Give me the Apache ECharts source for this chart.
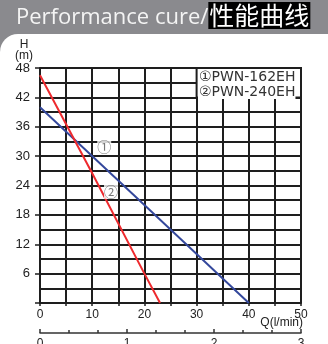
<!DOCTYPE html>
<html><head><meta charset="utf-8">
<script src="https://cdn.jsdelivr.net/npm/echarts@6/dist/echarts.min.js"></script>
<style>html,body{margin:0;padding:0;background:#fff}#c{width:328px;height:344px}</style>
</head><body><div id="c"></div>
<script>
// ---- data ----
const qBlue = [0, 20, 40];           // flow Q (l/min), PWN-162EH
const hBlue = [40, 20, 0];           // head H (m)
const qRed  = [0, 10, 20, 23];       // flow Q (l/min), PWN-240EH
const hRed  = [46.5, 26.5, 6, 0];    // head H (m)
const seriesNames = ['①PWN-162EH', '②PWN-240EH'];
const curveTags = ['①', '②'];
const curveTagQ = [12.3, 13.6];
const curveTagH = [31.9, 22.7];
const qTickLabels = ['0', '10', '20', '30', '40', '50'];
const hTickLabels = ['', '6', '12', '18', '24', '30', '36', '42', '48'];
const m3hTickLabels = ['0', '1', '2', '3'];
const legendBoxQ = [30, 50];
const legendBoxH = [42, 48];

const gridColor = '#1e1e1e';
const chart = echarts.init(document.getElementById('c'), null, {renderer: 'canvas'});
const pairs = (xs, ys) => xs.map((x, i) => [x, ys[i]]);

chart.setOption({
  animation: false,
  title: {
    text: '{a|Performance cure/}{b|性能曲线}',
    left: 11, top: -3, z: 10,
    textStyle: {
      fontWeight: 'normal',
      rich: {
        a: {fontSize: 22, fontFamily: 'Open Sans', fontWeight: 'normal', color: '#f4f4f4', verticalAlign: 'bottom'},
        b: {fontSize: 25, fontFamily: 'Noto Sans CJK SC', fontWeight: 'normal', color: '#ffffff', backgroundColor: '#000000', padding: [1, 1, 1, 1], verticalAlign: 'bottom'}
      }
    }
  },
  graphic: [
    {type: 'rect', z: -10, shape: {x: 0, y: 0, width: 328, height: 60}, style: {fill: '#8a8a8e'}},
    {type: 'rect', z: -9, shape: {x: 0, y: 34, width: 340, height: 320, r: [18, 0, 0, 0]}, style: {fill: '#ffffff'}},
    {type: 'text', right: 25, top: 317, z: 10,
      style: {text: 'Q(l/min)', font: '12px "Liberation Sans"', fill: '#222'}}
  ],
  grid: {left: 40, right: 27, top: 68, bottom: 41, containLabel: false, outerBoundsMode: 'none'},
  legend: {
    data: seriesNames,
    orient: 'vertical', left: 198, top: 70,
    icon: 'none', itemWidth: 0, itemHeight: 13, itemGap: 1,
    padding: [0, 0, 0, 0],
    backgroundColor: '#ffffff',
    selectedMode: false,
    textStyle: {fontSize: 14, fontFamily: 'DejaVu Sans', color: '#333', padding: [0, 0, 0, -4]}
  },
  xAxis: [
    {
      type: 'value', min: 0, max: 50, interval: 5,
      axisLine: {show: true, lineStyle: {color: gridColor, width: 2}},
      axisTick: {show: true, length: 3, lineStyle: {color: gridColor, width: 1.5}},
      axisLabel: {show: false},
      splitLine: {show: true, lineStyle: {color: gridColor, width: 2}}
    },
    {
      type: 'value', min: 0, max: 50, interval: 10, position: 'bottom',
      axisLine: {show: false}, axisTick: {show: false}, splitLine: {show: false},
      axisLabel: {margin: 6, fontSize: 12, fontFamily: 'Liberation Sans', color: '#222',
        formatter: v => qTickLabels[Math.round(v / 10)]}
    },
    {
      type: 'value', min: 0, max: 3, interval: 1, position: 'bottom', offset: 30,
      axisLine: {show: true, lineStyle: {color: '#333', width: 1.5}},
      axisTick: {show: true, inside: true, length: 4, lineStyle: {color: '#333', width: 1.5}},
      minorTick: {show: true, splitNumber: 3, length: 3, lineStyle: {color: '#333', width: 1.5}},
      splitLine: {show: false},
      axisLabel: {margin: 5, fontSize: 12, fontFamily: 'Liberation Sans', color: '#222',
        formatter: v => m3hTickLabels[Math.round(v)]}
    }
  ],
  yAxis: [
    {
      type: 'value', min: 0, max: 48, interval: 3,
      axisLine: {show: true, lineStyle: {color: gridColor, width: 2}},
      axisTick: {show: false}, axisLabel: {show: false},
      splitLine: {show: true, lineStyle: {color: gridColor, width: 2}},
      name: 'H\n(m)', nameLocation: 'end', nameGap: 7,
      nameTextStyle: {fontSize: 12, fontFamily: 'Liberation Sans', color: '#222', align: 'center', lineHeight: 11, padding: [0, 32, 0, 0]}
    },
    {
      type: 'value', min: 0, max: 48, interval: 6, position: 'left',
      axisLine: {show: false}, splitLine: {show: false},
      axisTick: {show: true, length: 5, lineStyle: {color: gridColor, width: 1.5}},
      axisLabel: {margin: 10, fontSize: 13, fontFamily: 'Liberation Sans', color: '#222',
        formatter: v => hTickLabels[Math.round(v / 6)]}
    }
  ],
  series: [
    {
      name: seriesNames[0], type: 'line', xAxisIndex: 0, yAxisIndex: 0,
      data: pairs(qBlue, hBlue), showSymbol: false, symbol: 'none',
      lineStyle: {color: '#34489c', width: 2}, itemStyle: {color: '#34489c'}, z: 3
    },
    {
      name: seriesNames[1], type: 'line', xAxisIndex: 0, yAxisIndex: 0,
      data: pairs(qRed, hRed), showSymbol: false, symbol: 'none',
      lineStyle: {color: '#ee2a2e', width: 2}, itemStyle: {color: '#ee2a2e'}, z: 3
    },
    {
      name: 'box', type: 'line', xAxisIndex: 0, yAxisIndex: 0, data: [], z: 4, silent: true,
      markArea: {
        silent: true,
        itemStyle: {color: '#ffffff', opacity: 1, borderColor: gridColor, borderWidth: 2},
        data: [[{coord: [legendBoxQ[0], legendBoxH[0]]}, {coord: [legendBoxQ[1], legendBoxH[1]]}]]
      }
    },
    {
      name: 'tags', type: 'scatter', xAxisIndex: 0, yAxisIndex: 0,
      symbolSize: 0, z: 5, silent: true,
      data: curveTags.map((t, i) => ({value: [curveTagQ[i], curveTagH[i]], name: t})),
      label: {show: true, position: 'inside', formatter: p => p.name, fontSize: 14,
        fontFamily: 'Noto Sans CJK SC', color: '#555', backgroundColor: '#ffffff', padding: [0, 0, 0, 0]}
    }
  ]
});
</script></body></html>
